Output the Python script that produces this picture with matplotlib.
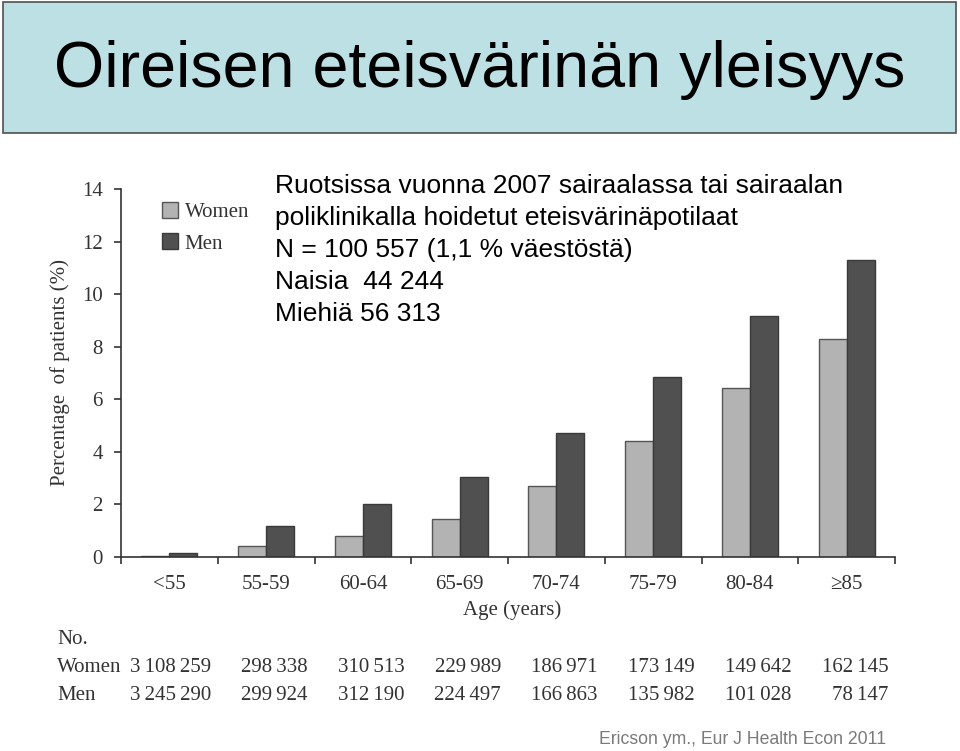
import matplotlib
matplotlib.use("Agg")
import matplotlib.pyplot as plt
from matplotlib.patches import Rectangle
import matplotlib.transforms as mtransforms

# ---- data ----
categories = ["<55", "55-59", "60-64", "65-69", "70-74", "75-79", "80-84", "\u226585"]
women_pct = [0.05, 0.42, 0.80, 1.46, 2.70, 4.40, 6.43, 8.29]
men_pct = [0.16, 1.18, 2.00, 3.04, 4.70, 6.83, 9.15, 11.29]
women_n = ["3 108 259", "298 338", "310 513", "229 989", "186 971", "173 149", "149 642", "162 145"]
men_n = ["3 245 290", "299 924", "312 190", "224 497", "166 863", "135 982", "101 028", "78 147"]
yticks = [0, 2, 4, 6, 8, 10, 12, 14]
title = "Oireisen eteisvärinän yleisyys"
info_lines = [
    "Ruotsissa vuonna 2007 sairaalassa tai sairaalan",
    "poliklinikalla hoidetut eteisvärinäpotilaat",
    "N = 100 557 (1,1 % väestöstä)",
    "Naisia  44 244",
    "Miehiä 56 313",
]
citation = "Ericson ym., Eur J Health Econ 2011"

W, H = 960, 751
fig = plt.figure(figsize=(W / 100, H / 100), dpi=100)
fig.patch.set_facecolor("white")

def fx(x):
    return x / W

def fy(y):
    return 1 - y / H

# title box
fig.patches.append(Rectangle((fx(3), fy(133)), fx(953), 131 / H, transform=fig.transFigure,
                             facecolor="#bde0e4", edgecolor="#505050", linewidth=1.2))
fig.text(fx(480), fy(70), title, ha="center", va="center", fontsize=46.5,
         family="Liberation Sans", color="black")

serif = "Liberation Serif"
sans = "Liberation Sans"
tc = "#333333"
fs = 15

# axes
ax = fig.add_axes([fx(121), fy(557), fx(895 - 121), (557 - 189) / H])
ax.set_xlim(0, len(categories))
ax.set_ylim(0, 14)
bw = 0.29
xs = [i + 0.5 for i in range(len(categories))]
ax.bar([x - bw / 2 for x in xs], women_pct, width=bw, color="#b3b3b3",
       edgecolor="#555555", linewidth=1.0, label="Women")
ax.bar([x + bw / 2 for x in xs], men_pct, width=bw, color="#505050",
       edgecolor="#3a3a3a", linewidth=1.0, label="Men")
for s in ["top", "right"]:
    ax.spines[s].set_visible(False)
for s in ["left", "bottom"]:
    ax.spines[s].set_color(tc)
    ax.spines[s].set_linewidth(1.2)
ax.set_yticks(yticks)
ax.set_yticklabels([str(v) for v in yticks], family=serif, fontsize=fs, color=tc)
ax.set_xticks(range(len(categories) + 1))
ax.set_xticklabels([])
ax.set_xticks(xs, minor=True)
ax.set_xticklabels(categories, minor=True, family=serif, fontsize=fs, color=tc)
ax.tick_params(axis="x", which="minor", length=0, pad=13)
ax.tick_params(axis="x", which="major", length=5, width=1.2, color=tc, direction="out")
ax.tick_params(axis="y", length=5, width=1.2, color=tc, direction="out", pad=8)
ax.set_facecolor("none")

leg = ax.legend(loc="upper left", bbox_to_anchor=(fx(143 - 121) / fx(774), 1 + 6 / 368),
                frameon=False, prop={"family": serif, "size": fs}, handlelength=0.8,
                handleheight=0.8, handletextpad=0.3, labelspacing=0.55, labelcolor=tc)

fig.text(fx(60), fy(373), "Percentage  of patients (%)", rotation=90, ha="center", va="center",
         family=serif, fontsize=fs, color=tc)
fig.text(fx(512), fy(610), "Age (years)", ha="center", va="center", family=serif,
         fontsize=fs, color=tc)

# info text
for i, line in enumerate(info_lines):
    fig.text(fx(275), fy(186 + 32 * i), line, ha="left", va="center", family=sans,
             fontsize=19, color="black")

# table
trans = mtransforms.blended_transform_factory(ax.transData, fig.transFigure)
fig.text(fx(57), fy(640), "No.", ha="left", va="center", family=serif, fontsize=fs, color=tc)
fig.text(fx(57), fy(668), "Women", ha="left", va="center", family=serif, fontsize=fs, color=tc)
fig.text(fx(57), fy(696), "Men", ha="left", va="center", family=serif, fontsize=fs, color=tc)
for x, wn, mn in zip(xs, women_n, men_n):
    ax.text(x + 0.43, fy(668), wn.replace(" ", "\u2009"), transform=trans, ha="right",
            va="center", family=serif, fontsize=fs, color=tc)
    ax.text(x + 0.43, fy(696), mn.replace(" ", "\u2009"), transform=trans, ha="right",
            va="center", family=serif, fontsize=fs, color=tc)

fig.text(fx(886), fy(740), citation, ha="right", va="center", family=sans, fontsize=12.7,
         color="#7a7a7a")

fig.savefig("out.png", dpi=100)
